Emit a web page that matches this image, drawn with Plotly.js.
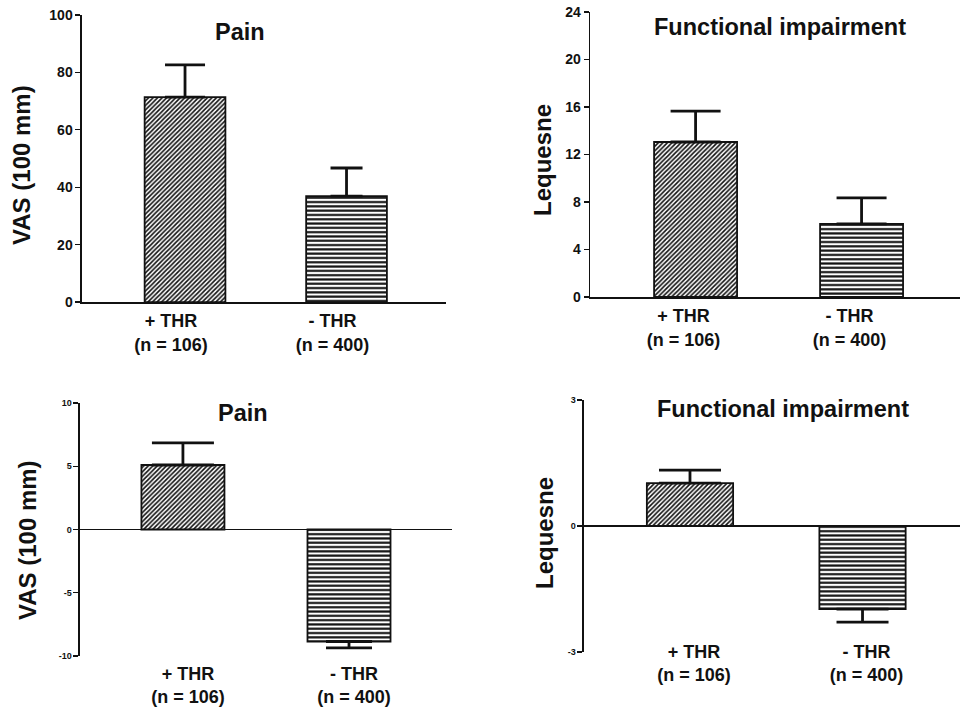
<!DOCTYPE html>
<html>
<head>
<meta charset="utf-8">
<script src="https://cdn.plot.ly/plotly-3.0.1.min.js"></script>
<style>html,body{margin:0;padding:0;background:#fff;}#chart{width:960px;height:708px;}</style>
</head>
<body>
<div id="chart"></div>
<script>
// ---- data ----
const categories = ['+ THR<br>(n = 106)', '- THR<br>(n = 400)'];
const panelTitles = ['Pain', 'Functional impairment', 'Pain', 'Functional impairment'];
const yTitles = ['VAS (100 mm)', 'Lequesne', 'VAS (100 mm)', 'Lequesne'];
// top row: baseline values (mean, SD shown upward)
const painBaseline = [71.4, 36.9];
const painBaselineErr = [11.2, 9.8];
const funcBaseline = [13.05, 6.15];
const funcBaselineErr = [2.6, 2.2];
// bottom row: change values
const painChange = [5.1, -8.85];
const painChangeErr = [1.75, 0.5];
const funcChange = [1.02, -1.98];
const funcChangeErr = [0.31, 0.31];
// tick values
const painTicks = [0, 20, 40, 60, 80, 100];
const funcTicks = [0, 4, 8, 12, 16, 20, 24];
const painChangeTicks = [-10, -5, 0, 5, 10];
const funcChangeTicks = [-3, 0, 3];

const FONT = 'Liberation Sans, Arial, sans-serif';
const patterns = ['/', '-'];

function barTraces(vals, errs, xa, ya, capW) {
  return vals.map((v, i) => ({
    type: 'bar',
    x: [categories[i]],
    y: [v],
    xaxis: xa, yaxis: ya,
    width: 0.5,
    showlegend: false,
    hoverinfo: 'skip',
    marker: {
      color: '#ffffff',
      line: {color: '#111', width: 1.8},
      pattern: {shape: patterns[i], fgcolor: '#111', bgcolor: '#ffffff',
                size: i === 0 ? 3.2 : 4.3, solidity: i === 0 ? 0.5 : 0.5}
    },
    error_y: {
      type: 'data', symmetric: false,
      array: [v >= 0 ? errs[i] : 0],
      arrayminus: [v < 0 ? errs[i] : 0],
      color: '#111', thickness: 2.8, width: capW[i]
    }
  }));
}

const traces = [].concat(
  barTraces(painBaseline, painBaselineErr, 'x', 'y', [20, 16]),
  barTraces(funcBaseline, funcBaselineErr, 'x2', 'y2', [25, 25]),
  barTraces(painChange, painChangeErr, 'x3', 'y3', [31, 23]),
  barTraces(funcChange, funcChangeErr, 'x4', 'y4', [31, 26])
);

function yax(domain, range, ticks, size, zero, anchor) {
  return {
    domain: domain, range: range, anchor: anchor,
    tickvals: ticks, ticktext: ticks.map(String),
    ticks: 'outside', ticklen: 5, tickwidth: 1.3, tickcolor: '#111',
    showline: true, linecolor: '#111', linewidth: 1.5,
    showgrid: false, zeroline: zero, zerolinecolor: '#111', zerolinewidth: 1.6,
    tickfont: {family: FONT, size: size, color: '#111', weight: 'bold'},
    fixedrange: true
  };
}
function xax(domain, range, anchor, line, shift, standoff) {
  return {
    domain: domain, range: range, anchor: anchor, type: 'category',
    categoryorder: 'array', categoryarray: categories,
    showline: line, linecolor: '#111', linewidth: 1.6,
    ticks: '', showgrid: false, zeroline: false,
    ticklabelshift: shift, ticklabelstandoff: standoff,
    tickfont: {family: FONT, size: 18, color: '#111', weight: 'bold'},
    fixedrange: true
  };
}

const titlePos = [[0.25, 0.955], [0.8125, 0.962], [0.253, 0.4167], [0.8156, 0.4223]];
const yTitlePos = [[0.0229, 0.767], [0.5646, 0.774], [0.0292, 0.2373], [0.5677, 0.2472]];
const annotations = [];
panelTitles.forEach((t, i) => annotations.push({
  text: t, xref: 'paper', yref: 'paper', x: titlePos[i][0], y: titlePos[i][1],
  xanchor: 'center', yanchor: 'middle', showarrow: false,
  font: {family: FONT, size: 23.5, color: '#111', weight: 'bold'}
}));
yTitles.forEach((t, i) => annotations.push({
  text: t, xref: 'paper', yref: 'paper', x: yTitlePos[i][0], y: yTitlePos[i][1],
  xanchor: 'center', yanchor: 'middle', textangle: -90, showarrow: false,
  font: {family: FONT, size: 24, color: '#111', weight: 'bold'}
}));

const layout = {
  width: 960, height: 708,
  margin: {l: 0, r: 0, t: 0, b: 0},
  paper_bgcolor: '#fff', plot_bgcolor: '#fff',
  barmode: 'overlay',
  showlegend: false,
  xaxis:  xax([0.0854, 0.4646], [-0.638, 1.616], 'y', true, -14, 2),
  yaxis:  yax([0.5734, 0.9788], [0, 100], painTicks, 14, false, 'x'),
  xaxis2: xax([0.6146, 1.0], [-0.636, 1.593], 'y2', true, -12, 2),
  yaxis2: yax([0.5805, 0.9831], [0, 24], funcTicks, 14, false, 'x2'),
  xaxis3: xax([0.0833, 0.4708], [-0.620, 1.620], 'y3', false, 5, 5),
  yaxis3: yax([0.0734, 0.4308], [-10, 10], painChangeTicks, 9, true, 'x3'),
  xaxis4: xax([0.6083, 1.0], [-0.6145, 1.565], 'y4', false, 4, -13),
  yaxis4: yax([0.0791, 0.4350], [-3, 3], funcChangeTicks, 9, true, 'x4'),
  annotations: annotations
};

Plotly.newPlot('chart', traces, layout, {displayModeBar: false, staticPlot: true});
</script>
</body>
</html>
